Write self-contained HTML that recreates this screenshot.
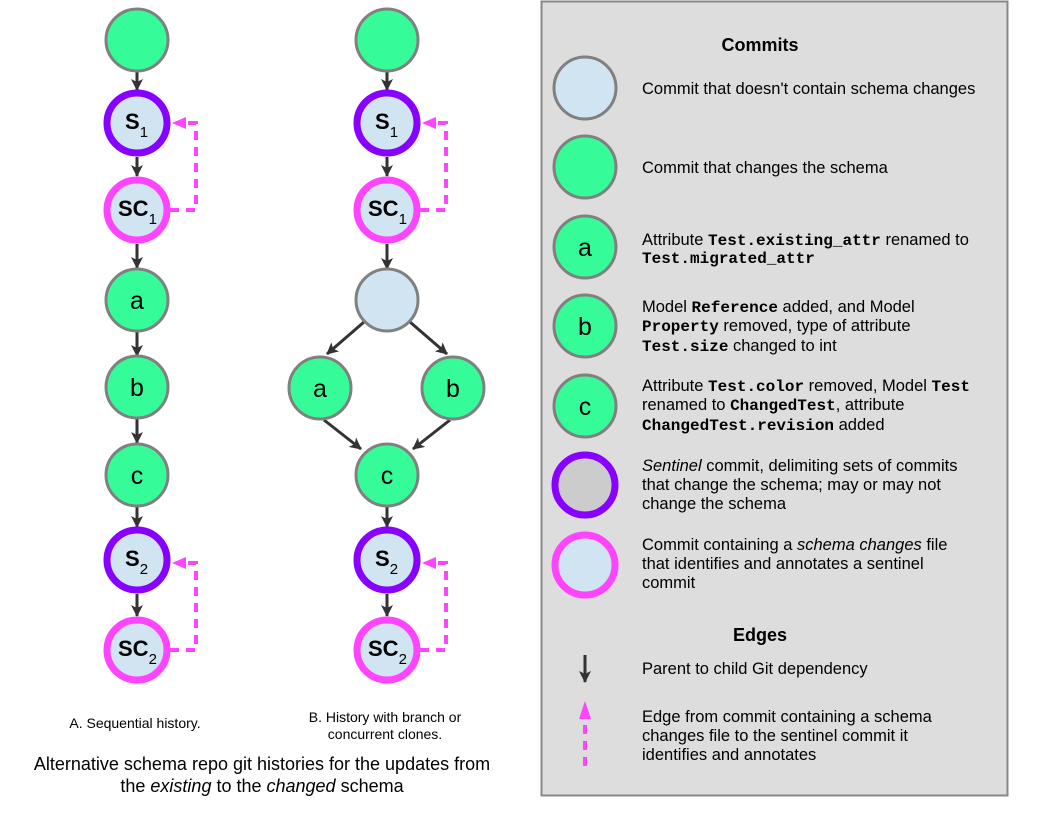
<!DOCTYPE html>
<html><head><meta charset="utf-8"><style>
body{margin:0;background:#fff;}
svg text{font-family:"Liberation Sans",sans-serif;}
.m{font-family:"Liberation Mono",monospace;font-weight:bold;font-size:16px;}
</style></head><body>
<svg width="1046" height="818" viewBox="0 0 1046 818" xmlns="http://www.w3.org/2000/svg">
<defs>
<marker id="ah" markerWidth="12" markerHeight="12" refX="11" refY="6" orient="auto" markerUnits="userSpaceOnUse"><path d="M0,0 L12,6 L0,12 L3,6 Z" fill="#333"/></marker>
</defs>
<rect x="541.5" y="1.5" width="466" height="794" fill="#dddddd" stroke="#888" stroke-width="2"/>

<g stroke="#333" stroke-width="3" marker-end="url(#ah)">
<line x1="137" y1="72" x2="137" y2="90"/><line x1="137" y1="157" x2="137" y2="176"/>
<line x1="137" y1="244" x2="137" y2="268"/><line x1="137" y1="332" x2="137" y2="356"/>
<line x1="137" y1="419" x2="137" y2="443"/><line x1="137" y1="507" x2="137" y2="527"/>
<line x1="137" y1="594" x2="137" y2="616"/>
<line x1="387" y1="72" x2="387" y2="90"/><line x1="387" y1="157" x2="387" y2="176"/>
<line x1="387" y1="244" x2="387" y2="269"/>
<line x1="364" y1="322" x2="327" y2="354"/><line x1="410" y1="322" x2="447" y2="354"/>
<line x1="324" y1="420" x2="361" y2="449"/><line x1="450" y1="420" x2="413" y2="449"/>
<line x1="387" y1="507" x2="387" y2="527"/><line x1="387" y1="594" x2="387" y2="616"/>
<line x1="585" y1="655" x2="585" y2="682"/>
</g>
<g fill="none" stroke="#ff44ff" stroke-width="4" stroke-dasharray="9,7">
<path d="M170 210 H196 V123 H182"/><path d="M420 210 H446 V123 H432"/>
<path d="M170 650 H196 V563 H182"/><path d="M420 650 H446 V563 H432"/>
<line x1="585" y1="766" x2="585" y2="722"/>
</g>
<g fill="#ff44ff">
<path d="M172 123 L186 117 L186 129 Z"/><path d="M422 123 L436 117 L436 129 Z"/>
<path d="M172 563 L186 557 L186 569 Z"/><path d="M422 563 L436 557 L436 569 Z"/>
<path d="M585 701 L579 719 L591 719 Z"/>
</g>

<g stroke="#808080" stroke-width="3" fill="#36fb99">
<circle cx="137" cy="40" r="31"/><circle cx="137" cy="300" r="31"/><circle cx="137" cy="387" r="31"/><circle cx="137" cy="475" r="31"/>
<circle cx="387" cy="40" r="31"/><circle cx="320" cy="388" r="31"/><circle cx="453" cy="388" r="31"/><circle cx="387" cy="475" r="31"/>
<circle cx="585" cy="167" r="31"/><circle cx="585" cy="247" r="31"/><circle cx="585" cy="326" r="31"/><circle cx="585" cy="406" r="31"/>
<circle cx="387" cy="300" r="31" fill="#d0e4f2"/><circle cx="585" cy="88" r="31" fill="#d0e4f2"/>
</g>
<g stroke="#8800ff" stroke-width="7" fill="#d0e4f2">
<circle cx="137" cy="123" r="30"/><circle cx="387" cy="123" r="30"/><circle cx="137" cy="560" r="30"/><circle cx="387" cy="560" r="30"/>
<circle cx="585" cy="485" r="30" fill="#cccccc"/>
</g>
<g stroke="#ff44ff" stroke-width="7" fill="#d0e4f2">
<circle cx="137" cy="210" r="30"/><circle cx="387" cy="210" r="30"/><circle cx="137" cy="650" r="30"/><circle cx="387" cy="650" r="30"/>
<circle cx="585" cy="565" r="30"/>
</g>

<g font-size="25" text-anchor="middle" fill="#000">
<text x="137" y="309">a</text><text x="137" y="396">b</text><text x="137" y="484">c</text>
<text x="320" y="397">a</text><text x="453" y="397">b</text><text x="387" y="484">c</text>
<text x="585" y="256">a</text><text x="585" y="335">b</text><text x="585" y="415">c</text>
</g>
<g font-size="22" font-weight="bold" fill="#000">
<text x="125" y="129">S<tspan font-size="15" font-weight="normal" dy="8">1</tspan></text>
<text x="375" y="129">S<tspan font-size="15" font-weight="normal" dy="8">1</tspan></text>
<text x="118" y="216">SC<tspan font-size="15" font-weight="normal" dy="8">1</tspan></text>
<text x="368" y="216">SC<tspan font-size="15" font-weight="normal" dy="8">1</tspan></text>
<text x="125" y="566">S<tspan font-size="15" font-weight="normal" dy="8">2</tspan></text>
<text x="375" y="566">S<tspan font-size="15" font-weight="normal" dy="8">2</tspan></text>
<text x="118" y="656">SC<tspan font-size="15" font-weight="normal" dy="8">2</tspan></text>
<text x="368" y="656">SC<tspan font-size="15" font-weight="normal" dy="8">2</tspan></text>
</g>

<g font-size="14" fill="#000" text-anchor="middle">
<text x="135" y="728">A. Sequential history.</text>
<text x="385" y="722">B. History with branch or</text>
<text x="385" y="739">concurrent clones.</text>
</g>
<g font-size="18" fill="#000" text-anchor="middle">
<text x="262" y="770">Alternative schema repo git histories for the updates from</text>
<text x="262" y="792">the <tspan font-style="italic">existing</tspan> to the <tspan font-style="italic">changed</tspan> schema</text>
</g>

<g font-size="16.5" fill="#000">
<text x="760" y="51" font-weight="bold" font-size="18" text-anchor="middle">Commits</text>
<text x="642" y="94">Commit that doesn't contain schema changes</text>
<text x="642" y="173">Commit that changes the schema</text>
<text x="642" y="245">Attribute <tspan class="m">Test.existing_attr</tspan> renamed to</text>
<text x="642" y="263" class="m">Test.migrated_attr</text>
<text x="642" y="312">Model <tspan class="m">Reference</tspan> added, and Model</text>
<text x="642" y="331"><tspan class="m">Property</tspan>  removed, type of attribute</text>
<text x="642" y="351"><tspan class="m">Test.size</tspan>  changed to int</text>
<text x="642" y="391">Attribute <tspan class="m">Test.color</tspan> removed, Model <tspan class="m">Test</tspan></text>
<text x="642" y="410">renamed to <tspan class="m">ChangedTest</tspan>, attribute</text>
<text x="642" y="430"><tspan class="m">ChangedTest.revision</tspan> added</text>
<text x="642" y="471"><tspan font-style="italic">Sentinel</tspan> commit, delimiting sets of commits</text>
<text x="642" y="490">that change the schema; may or may not</text>
<text x="642" y="509">change the schema</text>
<text x="642" y="550">Commit containing a <tspan font-style="italic">schema changes</tspan> file</text>
<text x="642" y="569">that identifies and annotates a sentinel</text>
<text x="642" y="588">commit</text>
<text x="760" y="641" font-weight="bold" font-size="18" text-anchor="middle">Edges</text>
<text x="642" y="674">Parent to child Git dependency</text>
<text x="642" y="722">Edge from commit containing a schema</text>
<text x="642" y="741">changes file to the sentinel commit it</text>
<text x="642" y="760">identifies and annotates</text>
</g>
</svg>
</body></html>
